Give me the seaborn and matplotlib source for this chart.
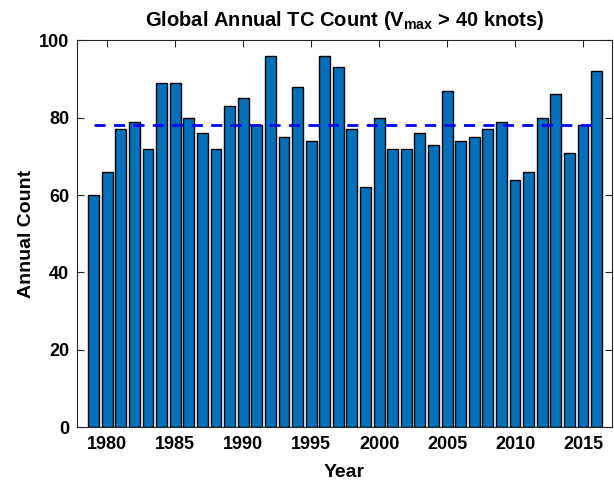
import numpy as np
import pandas as pd
import matplotlib
matplotlib.use("Agg")
import matplotlib.pyplot as plt
import seaborn as sns

# data
years = list(range(1979, 2017))
counts = [60, 66, 77, 79, 72, 89, 89, 80, 76, 72,
          83, 85, 78, 96, 75, 88, 74, 96, 93, 77,
          62, 80, 72, 72, 76, 73, 87, 74, 75, 77,
          79, 64, 66, 80, 86, 71, 78, 92]

df = pd.DataFrame({"year": years, "count": counts})
mean_count = np.mean(counts)

sns.set_style("ticks")
plt.rcParams['font.family'] = ['Liberation Sans', 'DejaVu Sans']
plt.rcParams['font.weight'] = 'bold'
plt.rcParams['text.color'] = 'black'
plt.rcParams['mathtext.fontset'] = 'custom'
plt.rcParams['mathtext.rm'] = 'Liberation Sans:bold'
plt.rcParams['mathtext.it'] = 'Liberation Sans:bold'
plt.rcParams['mathtext.bf'] = 'Liberation Sans:bold'

fig = plt.figure(figsize=(6.14, 4.8), dpi=100)
ax = fig.add_axes([0.126, 0.110, 0.870, 0.806])

sns.barplot(data=df, x="year", y="count", native_scale=True, color="#0072BD",
            saturation=1, edgecolor="black", linewidth=1.0, width=0.8, ax=ax)
ax.plot([years[0], years[-1]], [mean_count, mean_count], color="blue",
        linestyle=(0, (4, 3)), linewidth=2)

ax.set_xlim(1977.8, 2017.1)
ax.set_ylim(0, 100)
ax.set_xticks(range(1980, 2016, 5))
ax.set_yticks(range(0, 101, 20))
ax.tick_params(direction="in", length=5, top=True, right=True, labelsize=13,
               width=0.8, colors="#262626", pad=6)
for lab in ax.get_xticklabels() + ax.get_yticklabels():
    lab.set_fontweight("bold")
    lab.set_color("black")
for s in ax.spines.values():
    s.set_visible(True)
    s.set_color("#262626")
    s.set_linewidth(0.8)

ax.set_xlabel("Year", fontsize=14, fontweight="bold", color="black", labelpad=8)
ax.set_ylabel("Annual Count", fontsize=14, fontweight="bold", color="black", labelpad=3)
ax.set_title(r"Global Annual TC Count ($\mathrm{V_{max}}$ > 40 knots)",
             fontsize=14.5, fontweight="bold", color="black", pad=10)

fig.savefig("out.png", dpi=100)
